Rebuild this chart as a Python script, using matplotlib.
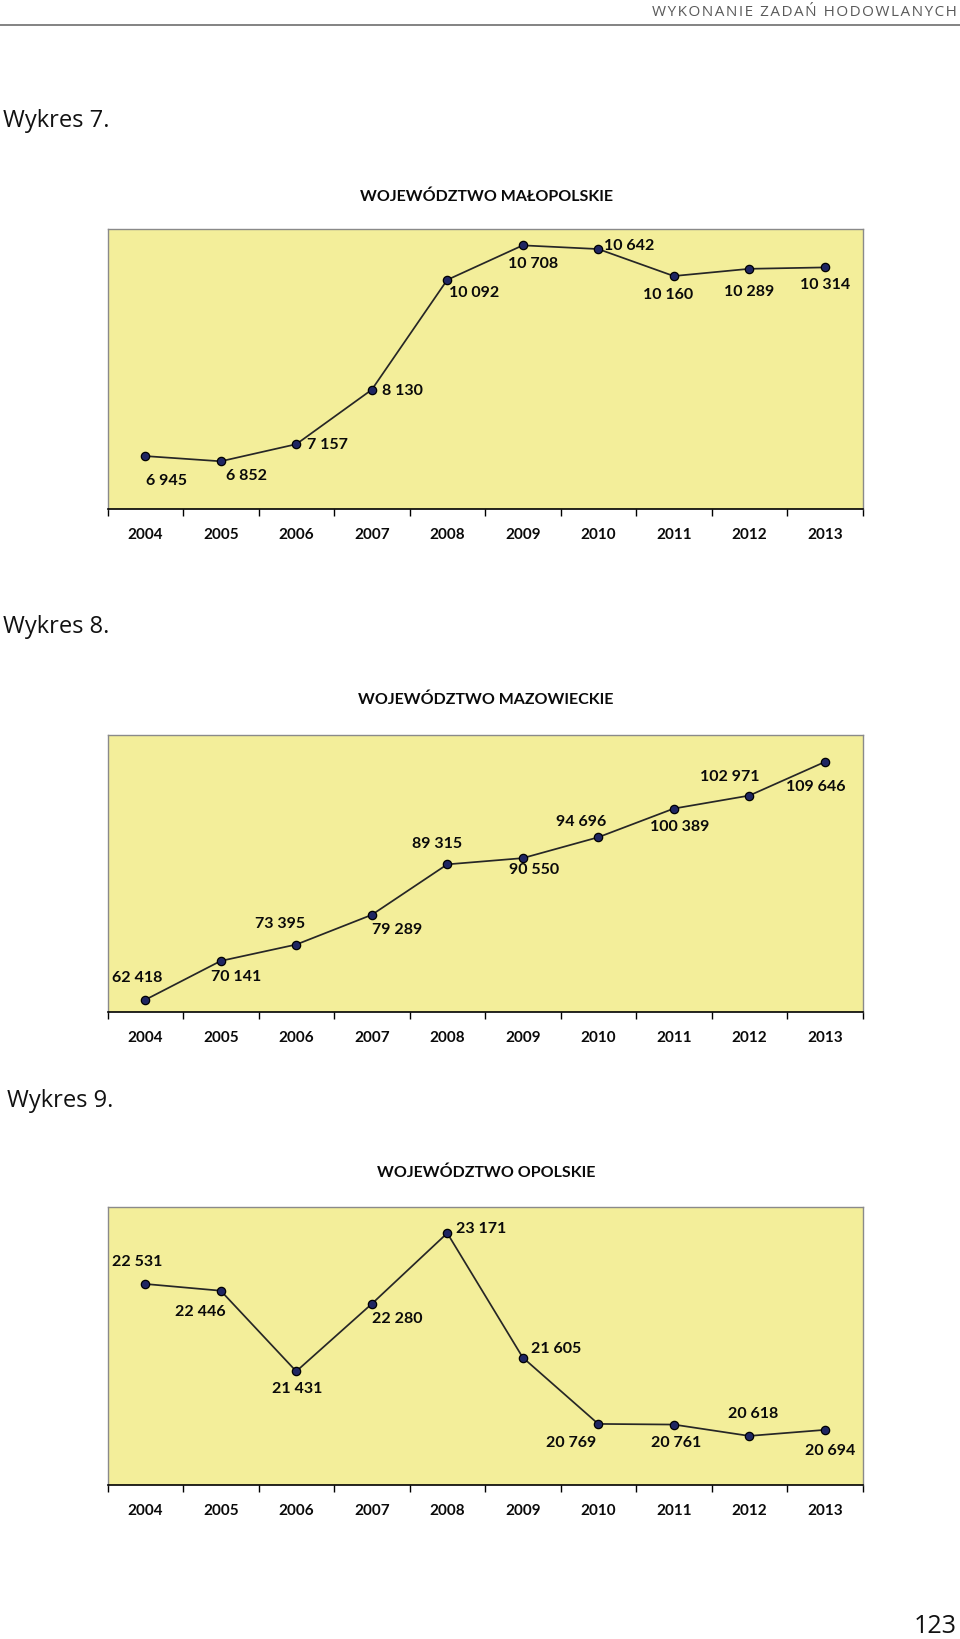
import matplotlib
matplotlib.use("Agg")
import matplotlib.pyplot as plt

# data
years = ["2004", "2005", "2006", "2007", "2008", "2009", "2010", "2011", "2012", "2013"]
malopolskie = [6945, 6852, 7157, 8130, 10092, 10708, 10642, 10160, 10289, 10314]
mazowieckie = [62418, 70141, 73395, 79289, 89315, 90550, 94696, 100389, 102971, 109646]
opolskie = [22531, 22446, 21431, 22280, 23171, 21605, 20769, 20761, 20618, 20694]

# label offsets in pixels (dx right, dy down) from each point
off_malo = [(21, 24), (26, 14), (31, 0), (31, 0), (27, 12), (10, 18), (31, -4), (-6, 18), (0, 22), (0, 17)]
off_mazo = [(-8, -23), (15, 15), (-16, -22), (25, 14), (-10, -21), (11, 11), (-17, -16), (6, 17), (-20, -20), (-9, 24)]
off_opol = [(-8, -23), (-20, 20), (1, 17), (25, 14), (34, -5), (33, -10), (-27, 18), (2, 17), (4, -23), (5, 20)]

W, H = 960, 1640
FONT = ["Lato", "DejaVu Sans"]
PAGE_FONT = ["Open Sans", "DejaVu Sans"]

fig = plt.figure(figsize=(W / 100, H / 100), dpi=100)
fig.patch.set_facecolor("white")


def fy(y):
    return 1 - y / H


def spaced(s):
    # rough letter spacing with hair spaces
    return "\u200a".join(s)


def draw_chart(top, bottom, values, offsets, ylim, title, title_y):
    left, right = 107.5, 862.5
    ax = fig.add_axes([left / W, fy(bottom), (right - left) / W, (bottom - top) / H])
    ax.set_facecolor("#F3EE9A")
    x = range(len(values))
    ax.plot(x, values, color="#262626", lw=1.25, marker="o", ms=6,
            mfc="#1F2662", mec="black", mew=0.9, zorder=3)
    for xi, v, (dx, dy) in zip(x, values, offsets):
        ax.annotate(f"{v:,}".replace(",", " "), (xi, v), xytext=(dx, -dy),
                    textcoords="offset pixels", ha="center", va="center",
                    fontsize=11.5, fontweight="bold", family=FONT, color="#0a0a0a")
    ax.set_xlim(-0.5, len(values) - 0.5)
    ax.set_ylim(*ylim)
    ax.set_yticks([])
    ax.set_xticks(list(x))
    ax.set_xticklabels(years, fontsize=11, fontweight="bold", family=FONT, color="#0a0a0a")
    ax.set_xticks([i - 0.5 for i in range(len(values) + 1)], minor=True)
    ax.tick_params(axis="x", which="major", length=0, pad=13)
    ax.tick_params(axis="x", which="minor", length=5, width=1.0, direction="out", color="black")
    for s in ["top", "left", "right"]:
        ax.spines[s].set_color("#8a8a8a")
        ax.spines[s].set_linewidth(1.0)
    ax.spines["bottom"].set_color("black")
    ax.spines["bottom"].set_linewidth(1.2)
    fig.text(486 / W, fy(title_y), title, ha="center", va="center",
             fontsize=11.5, fontweight="bold", family=FONT, color="#0a0a0a")
    return ax


# header
fig.text(957 / W, fy(12), spaced("WYKONANIE ZADAŃ HODOWLANYCH"), ha="right", va="center",
         fontsize=11, family=PAGE_FONT, color="#5a5a5a")
fig.add_artist(plt.Line2D([0, 1], [fy(26), fy(26)], color="#7a7a7a", lw=1.3))

fig.text(3 / W, fy(121), "Wykres 7.", ha="left", va="center", fontsize=17, family=PAGE_FONT, color="#111111")
fig.text(3 / W, fy(627), "Wykres 8.", ha="left", va="center", fontsize=17, family=PAGE_FONT, color="#111111")
fig.text(7 / W, fy(1101), "Wykres 9.", ha="left", va="center", fontsize=17, family=PAGE_FONT, color="#111111")

draw_chart(230, 510, malopolskie, off_malo, (6000, 11000), "WOJEWÓDZTWO MAŁOPOLSKIE", 197)
draw_chart(736, 1013, mazowieckie, off_mazo, (60000, 115000), "WOJEWÓDZTWO MAZOWIECKIE", 700)
draw_chart(1208, 1486, opolskie, off_opol, (20000, 23500), "WOJEWÓDZTWO OPOLSKIE", 1173)

fig.text(957 / W, fy(1627), "123", ha="right", va="center", fontsize=18, family=PAGE_FONT, color="#111111")

fig.savefig("out.png", dpi=100)
